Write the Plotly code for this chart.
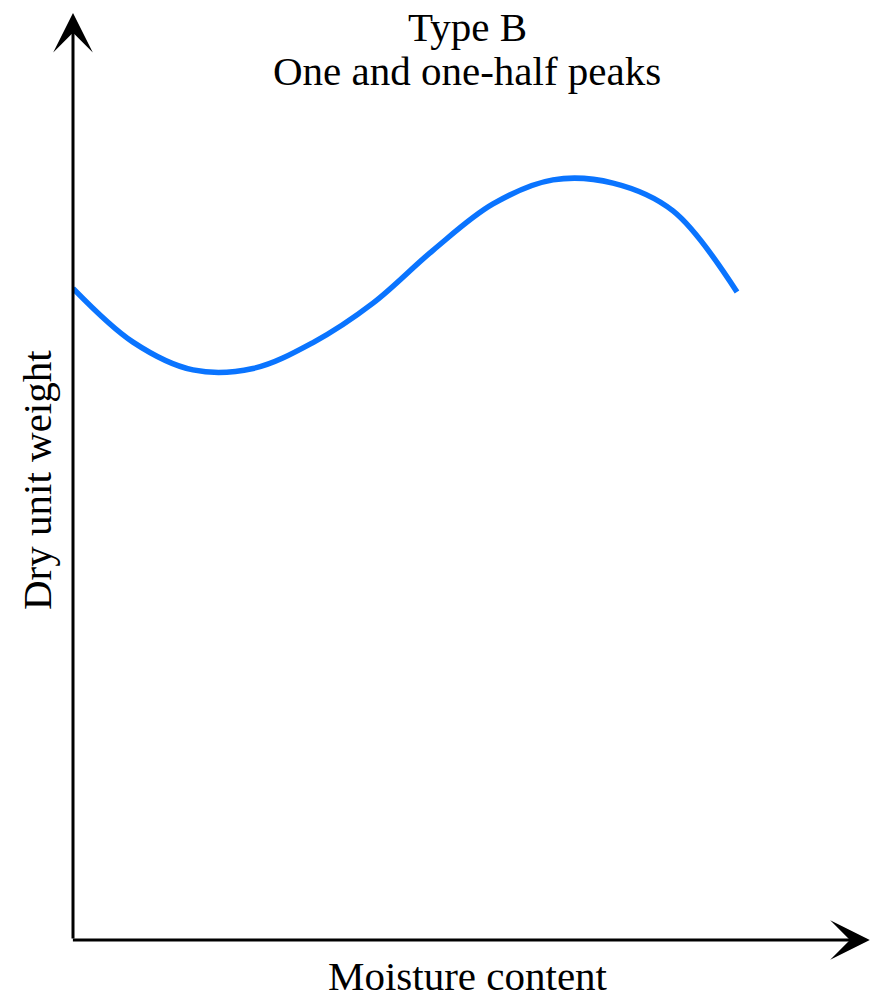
import plotly.graph_objects as go

# Curve values (arbitrary units)
moisture = [0.0, 7.5, 15.0, 22.5, 30.0, 37.5, 45.0, 52.5, 60.0, 67.5, 75.0, 83.0]
dry_unit_weight = [70.3, 64.5, 61.5, 61.65, 64.45, 68.7, 74.4, 79.4, 82.0, 81.65, 78.65, 69.9]

title_lines = ["Type B", "One and one-half peaks"]
x_label = "Moisture content"
y_label = "Dry unit weight"

FONT = "Liberation Serif, Times New Roman, serif"
FS = 41

fig = go.Figure()
fig.add_trace(go.Scatter(
    x=moisture, y=dry_unit_weight, mode="lines",
    line=dict(color="#0A74FF", width=5.5, shape="spline", smoothing=1.0),
    hoverinfo="skip", showlegend=False, cliponaxis=False,
))

# plot area in pixels: x 73..873, y 13..940  (paper coords)
def px(xp):
    return (xp - 73) / 800.0

def py(yp):
    return (940 - yp) / 927.0

def label(x, y, text, angle=0):
    return dict(x=px(x), y=py(y), xref="paper", yref="paper", text=text, showarrow=False,
                xanchor="center", yanchor="middle", textangle=angle,
                font=dict(family=FONT, size=FS, color="black"))

annotations = [
    # y axis arrow
    dict(x=0, y=100, ax=0, ay=0, xref="x", yref="y", axref="x", ayref="y",
         showarrow=True, arrowhead=3, arrowsize=2.2, arrowwidth=3, arrowcolor="black", text=""),
    # x axis arrow
    dict(x=99.6, y=0, ax=-0.2, ay=0, xref="x", yref="y", axref="x", ayref="y",
         showarrow=True, arrowhead=3, arrowsize=2.2, arrowwidth=3, arrowcolor="black", text=""),
    label(467, 27, title_lines[0]),
    label(467, 71, title_lines[1]),
    label(467.5, 976, x_label),
    label(37, 480, y_label, -90),
]

fig.update_layout(
    width=883, height=998,
    margin=dict(l=73, r=10, t=13, b=58, autoexpand=False),
    paper_bgcolor="white", plot_bgcolor="white",
    xaxis=dict(range=[0, 100], visible=False, fixedrange=True),
    yaxis=dict(range=[0, 100], visible=False, fixedrange=True),
    annotations=annotations,
    showlegend=False,
)

fig.write_html("out.html", config={"displayModeBar": False},
               post_script="document.body.style.margin='0';")
